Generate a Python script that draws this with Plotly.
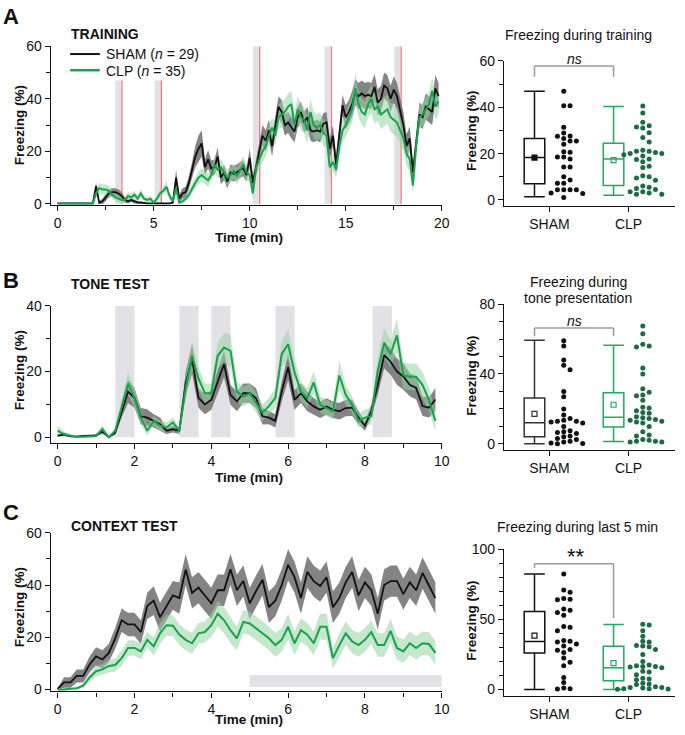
import plotly.graph_objects as go

# ---------------- DATA ----------------
# Panel A: training (10-s bins, 20 min)
time_A = [i / 6 for i in range(120)]
sham_A = [0.2,0.2,0.2,0.2,0.2,0.2,0.2,0.2,0.2,0.2,0.2,0.2,
          6.8,0.5,1.0,2.5,4.0,4.5,4.5,4.0,3.0,1.5,1.0,1.5,1.0,0.5,0.5,0.3,
          0.2,0.2,0.2,0.2,0.2,0.2,0.2,0.2,
          0.5,10,2,4,4.5,8,13,18,21,23,14,17,13.5,14,18,10,12,8.5,12,11.5,12,13,13.5,11,
          17.5,8,14,20,26,24,28,22,30,37,35,30,31,29,27.5,33,35,31,33,28,27.5,28,27.5,30.5,31,21,26,15,26,37.5,
          33,35,38,42.5,41,42,41,41.5,41,44.5,38.5,40,45,44,40,43.5,41,35,30,22,25,12,24,34,33,37,36,35,44,41]
sham_A_sem = [0.2,0.2,0.2,0.2,0.2,0.2,0.2,0.2,0.2,0.2,0.2,0.2,
              1.5,0.5,1,1.5,1.5,1.5,1.5,1.5,1.5,1,0.8,0.8,0.8,0.5,0.5,0.3,0.2,0.2,0.2,0.2,0.2,0.2,0.2,0.2,
              0.5,3,1.5,2,2,2.5,3,4,5,5,3,3.5,3,3,3.5,2.5,3,2.5,3,3,3,3,3,2.5,
              3.5,2.5,3,4,4,4,4,4,4,4,4.5,4,4,4,4,4,4,4,4,4,4,4,4,4,4,4,4,3.5,4,4,
              4.5,4.5,5,5,5,5,5,5,5,5,5,5,5,5,5,5,5,5,5,4.5,4.5,3.5,4,4.5,4.5,5,5,5,5,5]
clp_A = [0.2,0.2,0.2,0.2,0.2,0.2,0.2,0.2,0.2,0.2,0.2,0.2,
         4,6,5.5,5.5,5,3.5,2.5,2,1.5,1.5,3,2.5,3.5,2,4,2,1.5,2,0.5,2,4,5,6.5,3,
         1,6,0.5,1,2,3.5,6,8,10,11,10,9,11,15,13,14,12,10,11,12.5,10.5,13,15,12,
         11,4,14,17,20,22,26,29,26,33,34,35,37,38,30,36,33,32,28,35,30,29,30,27,26,14,16,13,22,28,
         30,33,36,44,38,35,34,38,40,36,37,34,35,36,33,32,31,28,25,19,17,7,22,33,34,36,38,43,37,39]
clp_A_sem = [0.2,0.2,0.2,0.2,0.2,0.2,0.2,0.2,0.2,0.2,0.2,0.2,
             1.5,2,2,2,2,1.5,1.5,1.5,1.2,1.2,1.5,1.5,1.5,1.2,1.5,1.2,1,1.2,0.5,1,1.5,1.5,2,1.5,
             0.8,2,0.5,0.8,1,1.5,2,2,2.5,2.5,2.5,2.5,2.5,3,3,3,3,3,3,3,3,3,3,3,
             3,2.5,3,3.5,4,4,4,4,4,4.5,5,5,5,5,5,5,5,5,5,5,5,5,5,5,4.5,3.5,3.5,3,4,4.5,
             4.5,5,5,5.5,5,5,5,5,5.5,5.5,5.5,5.5,5.5,5.5,5.5,5.5,5.5,5,5,4.5,4.5,3,4,4.5,4.5,4.5,4.5,5,5,5]
tone_A_start = [3.0, 5.05, 10.17, 13.9, 17.53]
tone_A_end = [3.3, 5.37, 10.47, 14.2, 17.83]
shock_A = [3.35, 5.4, 10.52, 14.25, 17.88]

# Panel B: tone test (10-s bins, 10 min)
time_B = [i / 6 for i in range(60)]
sham_B = [0.5,0.8,0.3,0.2,0.4,0.4,0.6,1.8,0,1.5,8,13.9,12,6.4,6,5,4,2,2.5,2,16.4,23.8,12,10,11.4,16.9,22.3,12.9,10.9,13.4,
          13.4,11.9,6.4,6,5,13.9,21.3,11.4,13.4,10.9,9.4,8.4,9.4,8.4,7.9,8.9,9,6,3.5,8,16,25,23,20,18.5,16,15,9.5,9,11.5]
sham_B_sem = [0.3,0.3,0.2,0.2,0.2,0.2,0.3,0.8,0.2,0.8,2,3.5,3,2.5,2.5,2,2,1,1,1,3.5,4.5,3,3,3,3.5,4,3,3,3,
              3,3,2.5,2,2,3,4,3,3,3,2.5,2.5,2.5,2.5,2.5,2.5,2.5,2,1.5,2,3,4,4,4,4,3.5,3.5,3,3,3.5]
clp_B = [2,1,0.5,0.2,0.2,0.2,0.4,2.5,0,2,9,16.4,12,6,2,5,3.5,3,4.5,2,14.9,24.8,17.9,13.4,13.4,24.8,27.3,26.3,13.9,12.4,
         13.4,10.5,7.5,9.5,11.9,25.3,28.3,19.8,13.9,11.9,16.7,9.9,8.9,7.9,18.8,12.9,9.9,5,6,6.4,20.3,28.8,25.3,31,18.8,18.4,18.4,15.9,11.4,5]
clp_B_sem = [1.5,0.8,0.5,0.3,0.3,0.3,0.4,1.2,0.2,1,2.5,3.5,3,2,1.5,1.5,1.5,1.5,1.5,1,3.5,4.5,3.5,3,3,4,4.5,5,3,3,
             3,3,2.5,2.5,3,4,4.5,4,3,3,3.5,2.5,2.5,2.5,4.5,3,2.5,2,2.5,2.5,4,4.5,4,5,4,4,4,4,3.5,3]
tone_B_start = [1.5, 3.17, 4.0, 5.67, 8.2]
tone_B_end = [2.0, 3.67, 4.5, 6.17, 8.7]

# Panel C: context test (10-s bins, 10 min)
time_C = [i / 6 for i in range(60)]
sham_C = [0.2,2.7,2.7,5.2,5.2,9.6,12.7,11.5,14,19.6,26.5,24.9,24.9,22,32,34,27.7,32,36,35,45.9,37,39,36,33,38,38,46,38,41.5,
          33,37.7,42,31.5,34,40,47.7,43,35,45,41.5,39.6,43,31.5,35,41,45,36,41,38,29,40,41.5,41.5,36.5,41,38,44.6,40,35]
sham_C_sem = [0.3,2,2,2.5,2.5,3,3.5,3.5,3.5,4,4.5,4.5,4.5,4.5,5,5.5,5.5,5.5,5.5,6,6,6,6,6,6,6,6,6,6,6,
              6,6,6,6,6,6,6,6,6,6,6,6,6,6,6,6,6,6,6,6,6,6,6,6,6,6,6,6,6,6]
clp_C = [0,0,0.3,0.5,1.5,4.6,7,7.7,9,9.4,12,15.9,15.9,14.6,19,16.5,21.5,24.6,24.4,21,19,17.7,21.5,22,24.6,29,26.5,22.7,19.6,25.9,
         25.3,23.4,21.5,19.6,17,19,24,17.7,22.7,21,17.7,24,24,12,17,21.5,18.4,17,19,22,17,17,22.4,15.9,14.6,17.7,15.9,17.7,17.4,14]
clp_C_sem = [0.2,0.3,0.3,0.5,0.8,1.5,2,2,2.5,2.5,3,3,3,3,3,3.5,4,4,4,4,4,4,4,4,4.5,5,5,5,4.5,4.5,
             4.5,4.5,4.5,4.5,4.5,4.5,5,4.5,4.5,4.5,4.5,5,5,4,4.5,4.5,4.5,4.5,4.5,4.5,4.5,4.5,4.5,4.5,4.5,4.5,4.5,4.5,4.5,4.5]
context_bar = [5, 10]

# Box plots: groups and summary statistics
groups = ["SHAM", "CLP"]
A_q1, A_med, A_q3, A_low, A_high, A_mean = [7.0, 6.2], [18.3, 17.7], [26.5, 24.5], [1.4, 2.0], [46.9, 40.3], [18.3, 17.2]
B_q1, B_med, B_q3, B_low, B_high, B_mean = [4.1, 9.7], [12.1, 15.3], [26.2, 29.3], [0.0, 1.3], [59.3, 56.4], [17.2, 22.4]
C_q1, C_med, C_q3, C_low, C_high, C_mean = [26.1, 6.3], [34.3, 15.6], [55.7, 30.8], [0.0, 0.0], [82.5, 46.4], [38.5, 18.9]

A_sham_pts = [46.9,40.6,40.6,31.4,28.9,27.6,27.5,26.5,25.4,25.4,24,20.6,20.8,18.5,18.5,17.7,14.2,14.2,10,7.2,7.2,8.6,4.4,4.4,4.4,4.4,1.1,2.8,3.0]
A_clp_pts = [40.5,37.5,33.5,32,31.5,31,29,27,25,21.5,21,21,20.5,20,20,19.5,19,17.7,17.5,16.5,14.5,14,10.5,10,9.5,8.5,6,5.5,5,4.5,3.5,3.5,3,2.5,2.5]
B_sham_pts = [59,56,48,45,42.5,30,27,20,16.5,14.5,13.5,13,13,12.5,12,10,7.5,7,6.5,6,4.5,4,3,2.5,1.5,1,0.5,0.2,0]
B_clp_pts = [67.5,63,57,56,55.5,43.5,40,31.5,29.5,28,27.5,25,21,20.5,19,18,17.5,15.5,15,14.5,14,13.5,13,12.5,12,10,7,5,4.5,2.5,2,1.5,1.5,1,1]
C_sham_pts = [82.5,71,69.5,65,64.5,64,57.5,56.5,55,53,45,44.5,42,35,34.5,34,32.5,31,28.5,28,26.5,22.5,19.5,17,8.5,5,1,0.5,0.3]
C_clp_pts = [46.5,46,42,38,34.5,34,31.5,31,30.5,28.5,25,20,17.5,17,16.5,16.5,16,15.5,13,12.5,10.5,8,7.5,7,4.5,4,3.5,2,1.5,1.5,1,0.5,0.5,0.3,0.2]

# ---------------- STYLE ----------------
W, H = 685, 735
FONT = "Liberation Sans, Arial, sans-serif"
BLACK = "#111111"
GREEN = "#19a050"
GREEN_BOX = "#22a862"
GREEN_DOT = "#1d6a44"
SHAM_BAND = "rgba(110,110,110,0.85)"
CLP_BAND = "rgba(150,212,160,0.55)"
TONE = "#e2e2e6"


def px(X):
    return X / W


def py(Y):
    return 1 - Y / H


fig = go.Figure()


def band(t, v, s, color, xa, ya):
    up = [a + b for a, b in zip(v, s)]
    lo = [max(a - b, 0) for a, b in zip(v, s)]
    fig.add_trace(go.Scatter(x=t + t[::-1], y=up + lo[::-1], fill="toself", fillcolor=color,
                             line=dict(width=0), mode="lines", hoverinfo="skip",
                             xaxis=xa, yaxis=ya, showlegend=False))


def line(t, v, color, w, xa, ya):
    fig.add_trace(go.Scatter(x=t, y=v, mode="lines", line=dict(color=color, width=w),
                             xaxis=xa, yaxis=ya, showlegend=False))


for (t, sv, ss, cv, cs, xa, ya) in [
    (time_A, sham_A, sham_A_sem, clp_A, clp_A_sem, "x", "y"),
    (time_B, sham_B, sham_B_sem, clp_B, clp_B_sem, "x3", "y3"),
    (time_C, sham_C, sham_C_sem, clp_C, clp_C_sem, "x5", "y5"),
]:
    band(t, sv, ss, SHAM_BAND, xa, ya)
    band(t, cv, cs, CLP_BAND, xa, ya)
    line(t, sv, BLACK, 1.8, xa, ya)
    line(t, cv, GREEN, 2.0, xa, ya)


def swarm(vals, center, ypx, xpx=80.0, d=5.0, step=0.08):
    placed = []
    xs = [0.0] * len(vals)
    order = sorted(range(len(vals)), key=lambda i: -vals[i])
    cands = [0]
    for m in range(1, 10):
        cands += [m, -m]
    for i in order:
        y = vals[i] * ypx
        x = 0.0
        for c in cands:
            x = c * step * xpx
            if all((x - a) ** 2 + (y - b) ** 2 >= d * d for a, b in placed):
                break
        placed.append((x, y))
        xs[i] = center + x / xpx
    return xs


BOX_OFF = -0.19
DOT_OFF = 0.18
panels = [
    ("x2", "y2", A_q1, A_med, A_q3, A_low, A_high, A_mean, A_sham_pts, A_clp_pts, 2.367, True, BLACK),
    ("x4", "y4", B_q1, B_med, B_q3, B_low, B_high, B_mean, B_sham_pts, B_clp_pts, 1.784, False, "#333333"),
    ("x6", "y6", C_q1, C_med, C_q3, C_low, C_high, C_mean, C_sham_pts, C_clp_pts, 1.43, False, BLACK),
]
for xa, ya, q1, med, q3, lo, hi, mn, sp, cp, ypx, filled, shamcol in panels:
    for gi, (col, dotcol, pts) in enumerate([(shamcol, BLACK, sp), (GREEN_BOX, GREEN_DOT, cp)]):
        fig.add_trace(go.Box(x=[gi + BOX_OFF], q1=[q1[gi]], median=[med[gi]], q3=[q3[gi]],
                             lowerfence=[lo[gi]], upperfence=[hi[gi]], width=0.26, whiskerwidth=1,
                             orientation="v", boxpoints=False, line=dict(color=col, width=1.5),
                             fillcolor="rgba(0,0,0,0)", xaxis=xa, yaxis=ya, showlegend=False))
        sym = "square" if (filled and gi == 0) else "square-open"
        fig.add_trace(go.Scatter(x=[gi + BOX_OFF], y=[mn[gi]], mode="markers",
                                 marker=dict(symbol=sym, size=5, color=col, line=dict(color=col, width=1.2)),
                                 xaxis=xa, yaxis=ya, showlegend=False))
        fig.add_trace(go.Scatter(x=swarm(pts, gi + DOT_OFF, ypx), y=pts, mode="markers",
                                 marker=dict(size=5, color=dotcol), xaxis=xa, yaxis=ya, showlegend=False))

shapes = []
# tone bars and shocks in A
for s, e, sh, i in zip(tone_A_start, tone_A_end, shock_A, range(5)):
    top = 47 if i < 2 else 60
    shapes.append(dict(type="rect", xref="x", yref="y", x0=s, x1=e, y0=0, y1=top,
                       fillcolor=TONE, line=dict(width=0), layer="below"))
    shapes.append(dict(type="line", xref="x", yref="y", x0=sh, x1=sh, y0=0, y1=top,
                       line=dict(color="rgba(235,110,110,1)", width=1.2), layer="below"))
for s, e in zip(tone_B_start, tone_B_end):
    shapes.append(dict(type="rect", xref="x3", yref="y3", x0=s, x1=e, y0=0, y1=40,
                       fillcolor=TONE, line=dict(width=0), layer="below"))
shapes.append(dict(type="rect", xref="x5", yref="y5", x0=context_bar[0], x1=context_bar[1], y0=1, y1=5.5,
                   fillcolor=TONE, line=dict(width=0), layer="below"))

# significance brackets
BR = dict(color="#9a9a9a", width=1.5)
def bracket(xa, ya, ytop, yl, yr):
    shapes.append(dict(type="line", xref=xa, yref=ya, x0=BOX_OFF, x1=BOX_OFF, y0=yl, y1=ytop, line=BR))
    shapes.append(dict(type="line", xref=xa, yref=ya, x0=BOX_OFF, x1=1 + BOX_OFF, y0=ytop, y1=ytop, line=BR))
    shapes.append(dict(type="line", xref=xa, yref=ya, x0=1 + BOX_OFF, x1=1 + BOX_OFF, y0=ytop, y1=yr, line=BR))
bracket("x2", "y2", 57.8, 53.2, 53.2)
bracket("x4", "y4", 66.3, 61.7, 61.7)
bracket("x6", "y6", 89.8, 86.7, 51.0)

# legend lines
shapes.append(dict(type="line", xref="paper", yref="paper", x0=px(71), x1=px(101), y0=py(47), y1=py(47),
                   line=dict(color=BLACK, width=2)))
shapes.append(dict(type="line", xref="paper", yref="paper", x0=px(71), x1=px(101), y0=py(63.5), y1=py(63.5),
                   line=dict(color=GREEN, width=2.5)))

ann = []
def text(X, Y, s, size=14, bold=False, xanchor="left", angle=0, color=BLACK, italic=False):
    if italic:
        s = f"<i>{s}</i>"
    if bold:
        s = f"<b>{s}</b>"
    ann.append(dict(x=px(X), y=py(Y), xref="paper", yref="paper", text=s,
                    showarrow=False, xanchor=xanchor, yanchor="middle", textangle=angle,
                    font=dict(family=FONT, size=size, color=color)))

text(1, 9, "A", 22, True)
text(1, 278, "B", 22, True)
text(1, 515, "C", 22, True)
text(70, 27, "TRAINING", 14, True)
text(70, 282, "TONE TEST", 14, True)
text(70, 529, "CONTEXT TEST", 14, True)
text(105, 47, "SHAM (<i>n</i> = 29)", 14)
text(105, 64, "CLP (<i>n</i> = 35)", 14)
text(585, 28, "Freezing during training", 14, xanchor="center")
text(585, 280, "Freezing during", 14, xanchor="center")
text(585, 296, "tone presentation", 14, xanchor="center")
text(584, 530, "Freezing during last 5 min", 14, xanchor="center")
for Y in (120, 370, 612):
    text(20, Y, "Freezing (%)", 13.5, True, xanchor="center", angle=-90)
for Y in (125, 375, 625):
    text(477, Y, "Freezing (%)", 13.5, True, xanchor="center", angle=-90)
for Y in (234, 479, 726):
    text(252, Y, "Time (min)", 13.5, True, xanchor="center")
# significance labels
text(581, 52, "ns", 14, xanchor="center", italic=True)
text(581, 320, "ns", 14, xanchor="center", italic=True)
text(583, 560, "**", 22, xanchor="center")

AX = dict(showline=True, linecolor=BLACK, linewidth=1.3, ticks="outside", ticklen=5, tickwidth=1.3,
          tickcolor=BLACK, showgrid=False, zeroline=False, tickfont=dict(family=FONT, size=14, color=BLACK))


def minor(d):
    return dict(ticks="outside", ticklen=4, tickwidth=1.3, tickcolor=BLACK, dtick=d, showgrid=False)


LX = [px(51.3), px(447)]
BX = [px(510), px(683)]
layout = dict(
    width=W, height=H, autosize=False, margin=dict(l=0, r=0, t=0, b=0), paper_bgcolor="white", plot_bgcolor="white",
    showlegend=False, shapes=shapes, annotations=ann, font=dict(family=FONT, color=BLACK),
    xaxis=dict(AX, domain=LX, range=[-0.36, 20], tick0=0, dtick=5, minor=minor(2.5), anchor="y"),
    yaxis=dict(AX, domain=[py(201.1), py(39)], range=[-0.4, 60], tick0=0, dtick=20, minor=minor(10), anchor="x"),
    xaxis2=dict(AX, domain=BX, range=[-0.575, 1.5875], tickvals=[0, 1], ticktext=groups, anchor="y2"),
    yaxis2=dict(AX, domain=[py(202.3), py(54)], range=[-2.67, 60], tick0=0, dtick=20, minor=minor(10), anchor="x2"),
    xaxis3=dict(AX, domain=LX, range=[-0.18, 10], tick0=0, dtick=2, minor=minor(1), anchor="y3"),
    yaxis3=dict(AX, domain=[py(444.3), py(304)], range=[-1.8, 40], tick0=0, dtick=20, minor=minor(10), anchor="x3"),
    xaxis4=dict(AX, domain=BX, range=[-0.575, 1.5875], tickvals=[0, 1], ticktext=groups, anchor="y4"),
    yaxis4=dict(AX, domain=[py(451), py(302.3)], range=[-3.4, 80], tick0=0, dtick=40, minor=minor(10), anchor="x4"),
    xaxis5=dict(AX, domain=LX, range=[-0.18, 10], tick0=0, dtick=2, minor=minor(1), anchor="y5"),
    yaxis5=dict(AX, domain=[py(697.7), py(535.7)], range=[-0.75, 60], tick0=0, dtick=20, minor=minor(10), anchor="x5"),
    xaxis6=dict(AX, domain=BX, range=[-0.575, 1.5875], tickvals=[0, 1], ticktext=groups, anchor="y6"),
    yaxis6=dict(AX, domain=[py(702.3), py(552.7)], range=[-4.6, 100], tick0=0, dtick=50, minor=minor(10), anchor="x6"),
)
fig.update_layout(**layout)
fig.write_html("out.html", config={"displayModeBar": False, "responsive": False},
               post_script="document.body.style.margin='0px';document.body.style.padding='0px';"
                           "document.body.style.overflow='hidden';document.documentElement.style.overflow='hidden';")
